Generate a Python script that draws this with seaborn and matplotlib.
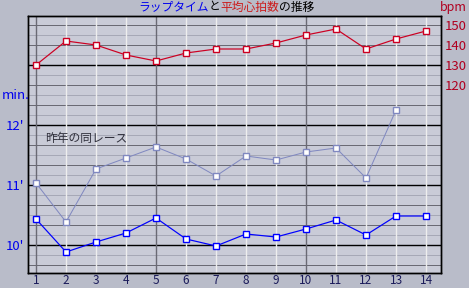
import numpy as np
import pandas as pd
import seaborn as sns
import matplotlib.pyplot as plt
from matplotlib.offsetbox import TextArea, HPacker, AnchoredOffsetbox

# ---- data ----
laps = list(range(1, 15))
heart_rate = [130, 142, 140, 135, 132, 136, 138, 138, 141, 145, 148, 138, 143, 147]
lap_time_sec = [626, 593, 603, 612, 627, 606, 599, 611, 608, 616, 625, 610, 629, 629]
last_year_laps = list(range(1, 14))
last_year_sec = [662, 623, 676, 687, 698, 686, 669, 689, 685, 693, 697, 667, 735]
min_ticks = [10, 11, 12]
min_labels = ["10'", "11'", "12'"]
bpm_ticks = [120, 130, 140, 150]

sns.set_theme(style="white")
plt.rcParams['font.family'] = ['Noto Sans CJK JP', 'DejaVu Sans']

OUTER = '#b9bcc9'
INNER = '#c9cbd7'
PX = 0.72  # one pixel in points

fig = plt.figure(figsize=(4.69, 2.88), dpi=100, facecolor=OUTER)
W, H = 469, 288
L, R, T, B = 28, 441, 16, 273
ax = fig.add_axes([L / W, 1 - B / H, (R - L) / W, (B - T) / H])
ax.set_facecolor(INNER)

# axis ranges (pixel-consistent)
x0 = 1 - 8 / 30
x1 = 14 + 15 / 30
ax.set_xlim(x0, x1)
ylo = 10 - (B - 245) / 60
yhi = 10 + (245 - T) / 60
ax.set_ylim(ylo, yhi)

# grid lines
for k in range(-2, 23):
    yv = 10 + k / 6
    if k % 6 == 0:
        c, lw = '#000000', 1.4 * PX
    elif k % 2 == 0:
        c, lw = '#6a6a74', PX
    else:
        c, lw = '#a6a8b6', PX
    ax.axhline(yv, color=c, lw=lw, zorder=1)
for xv in laps:
    if xv in (1, 5, 10):
        ax.axvline(xv, color='#6a6a74', lw=1.4 * PX, zorder=1.5)
    else:
        ax.axvline(xv, color='#eeeeee', lw=1.4 * PX, zorder=1.2)

df_now = pd.DataFrame({'lap': laps, 'min': np.array(lap_time_sec) / 60})
df_last = pd.DataFrame({'lap': last_year_laps, 'min': np.array(last_year_sec) / 60})
df_hr = pd.DataFrame({'lap': laps, 'bpm': heart_rate})

sns.lineplot(data=df_last, x='lap', y='min', ax=ax, color='#8088c0', lw=PX,
             marker='s', markersize=5, markerfacecolor='white',
             markeredgecolor='#8088c0', markeredgewidth=1.0, zorder=3)
sns.lineplot(data=df_now, x='lap', y='min', ax=ax, color='#0000ff', lw=1.2 * PX,
             marker='s', markersize=5, markerfacecolor='white',
             markeredgecolor='#0000ff', markeredgewidth=1.0, zorder=4)

ax.text(1.3, 11.78, '昨年の同レース', fontsize=8.5, color='#30303c',
        ha='left', va='center', zorder=5)

ax.set_yticks(min_ticks)
ax.set_yticklabels(min_labels, color='#0000ee', fontsize=9.5)
ax.set_xticks(laps)
ax.set_xticklabels([str(v) for v in laps], color='#1a1a5a', fontsize=8.5)
ax.tick_params(axis='x', length=0, pad=0.5)
ax.tick_params(axis='y', length=0, pad=3)
ax.set_xlabel('')
ax.set_ylabel('')

ax2 = ax.twinx()
ax2.set_ylim(130 - (B - 65) * 0.5, 130 + (65 - T) * 0.5)
sns.lineplot(data=df_hr, x='lap', y='bpm', ax=ax2, color='#cc0022', lw=1.2 * PX,
             marker='s', markersize=5, markerfacecolor='white',
             markeredgecolor='#cc0022', markeredgewidth=1.0, zorder=4)
ax2.set_yticks(bpm_ticks)
ax2.set_yticklabels([str(v) for v in bpm_ticks], color='#b00020', fontsize=9.5)
ax2.tick_params(axis='y', length=0, pad=3)
ax2.set_ylabel('')
ax2.set_xlim(x0, x1)

for a in (ax, ax2):
    for s in a.spines.values():
        s.set_color('black')
        s.set_linewidth(1.4 * PX)

fig.text(2 / W, 1 - 96 / H, 'min.', color='#0000ee', fontsize=9.5, ha='left', va='center')
fig.text(467 / W, 1 - 7 / H, 'bpm', color='#b00020', fontsize=9, ha='right', va='center')

parts = [('ラップタイム', '#0000ee'), ('と', '#000000'), ('平均心拍数', '#cc1a1a'), ('の推移', '#000000')]
areas = [TextArea(t, textprops=dict(color=c, fontsize=8.5)) for t, c in parts]
box = HPacker(children=areas, align='center', pad=0, sep=0)
ab = AnchoredOffsetbox(loc='center', child=box, pad=0, frameon=False,
                       bbox_to_anchor=(226 / W, 1 - 7 / H), bbox_transform=fig.transFigure,
                       borderpad=0)
fig.add_artist(ab)

fig.savefig('out.png', dpi=100, facecolor=OUTER)
